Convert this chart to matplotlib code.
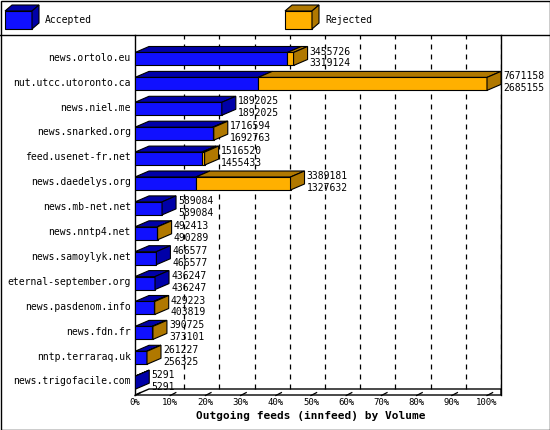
import matplotlib.pyplot as plt
from matplotlib.patches import Polygon, Rectangle

hosts = ['news.ortolo.eu', 'nut.utcc.utoronto.ca', 'news.niel.me', 'news.snarked.org',
         'feed.usenet-fr.net', 'news.daedelys.org', 'news.mb-net.net', 'news.nntp4.net',
         'news.samoylyk.net', 'eternal-september.org', 'news.pasdenom.info', 'news.fdn.fr',
         'nntp.terraraq.uk', 'news.trigofacile.com']
offered = [3455726, 7671158, 1892025, 1716594, 1516520, 3389181, 589084, 492413,
           466577, 436247, 429223, 390725, 261227, 5291]
accepted = [3319124, 2685155, 1892025, 1692763, 1455433, 1327632, 589084, 490289,
            466577, 436247, 403819, 373101, 256325, 5291]
ticks = [f'{p}%' for p in range(0, 101, 10)]

BLUE, BLUE_D = '#1010ff', '#0000a8'
ORANGE, ORANGE_D = '#ffb000', '#b07800'
FONT = 'DejaVu Sans Mono'

fig = plt.figure(figsize=(5.5, 4.3), dpi=100)
fig.patch.set_facecolor('white')

# pixel-space overlay for frame and legend
bg = fig.add_axes([0, 0, 1, 1])
bg.set_xlim(0, 550)
bg.set_ylim(430, 0)
bg.axis('off')
bg.add_patch(Rectangle((0.5, 0.5), 549, 429, fill=False, lw=1, ec='black'))
bg.plot([0, 550], [35, 35], color='black', lw=1)


def legend_box(x, col, dcol, label):
    bg.add_patch(Polygon([(x, 11), (x + 27, 11), (x + 27, 29), (x, 29)], fc=col, ec='black', lw=0.8))
    bg.add_patch(Polygon([(x, 11), (x + 7, 5), (x + 34, 5), (x + 27, 11)], fc=dcol, ec='black', lw=0.8))
    bg.add_patch(Polygon([(x + 27, 11), (x + 34, 5), (x + 34, 23), (x + 27, 29)], fc=dcol, ec='black', lw=0.8))
    bg.text(x + 40, 20, label, fontsize=7, family=FONT, va='center')


legend_box(5, BLUE, BLUE_D, 'Accepted')
legend_box(285, ORANGE, ORANGE_D, 'Rejected')

# plot axes: 0% at x=135, 100% at x=487, right edge at 501
vmax = max(offered)
ax = fig.add_axes([135 / 550, 35 / 430, 366 / 550, (395 - 35) / 430])
pitch = 24.9
ax.set_xlim(0, vmax * 366 / 352)
ax.set_ylim((395 - 59) / pitch, (35 - 59) / pitch)
ax.axis('off')
ax.patch.set_alpha(0)

dx = vmax * 14 / 352
dy = 6 / pitch
h = 13 / pitch / 2
floor = (395 - 59) / pitch
right = vmax * 366 / 352
top = ax.get_ylim()[1]

# axes lines
ax.plot([0, 0], [floor, top], color='black', lw=1, clip_on=False)
ax.plot([right] * 2, [floor, top], color='black', lw=1, clip_on=False)
ax.add_patch(Polygon([(0, floor), (dx, floor - dy), (right, floor - dy), (right, floor)],
                     fill=False, ec='black', lw=1, clip_on=False))
for k, t in enumerate(ticks):
    xv = vmax * k / 10
    if k > 0:
        ax.plot([xv + dx, xv + dx], [floor - dy, top], color='black', lw=0.9,
                ls=(0, (4, 4)), zorder=0)
    ax.plot([xv, xv + dx * 0.4], [floor + 0.02, floor - dy * 0.4], color='black', lw=0.9, clip_on=False)
    ax.text(xv, floor + 0.3, t, fontsize=6.5, family=FONT, ha='center', va='center')
ax.text(vmax * 0.5, floor + 0.85, 'Outgoing feeds (innfeed) by Volume', fontsize=8,
        family=FONT, weight='bold', ha='center', va='center')

for i, (host, off, acc) in enumerate(zip(hosts, offered, accepted)):
    y0, y1 = i - h, i + h
    segs = [(0, acc, BLUE, BLUE_D)]
    if off > acc:
        segs.append((acc, off, ORANGE, ORANGE_D))
    for a, b, c, d in segs:
        ax.add_patch(Polygon([(a, y0), (a + dx, y0 - dy), (b + dx, y0 - dy), (b, y0)],
                             fc=d, ec='black', lw=0.8, zorder=3))
        ax.add_patch(Rectangle((a, y0), b - a, y1 - y0, fc=c, ec='black', lw=0.8, zorder=4))
    sc = segs[-1][3]
    ax.add_patch(Polygon([(off, y0), (off + dx, y0 - dy), (off + dx, y1 - dy), (off, y1)],
                         fc=sc, ec='black', lw=0.8, zorder=4))
    tx = off + dx * 1.15
    ax.text(tx, i - 0.3, str(off), fontsize=7, family=FONT, va='center', clip_on=False)
    ax.text(tx, i + 0.18, str(acc), fontsize=7, family=FONT, va='center', clip_on=False)
    ax.text(-vmax * 0.012, i - 0.05, host, fontsize=7, family=FONT, ha='right', va='center')

fig.savefig('out.png', dpi=100)
